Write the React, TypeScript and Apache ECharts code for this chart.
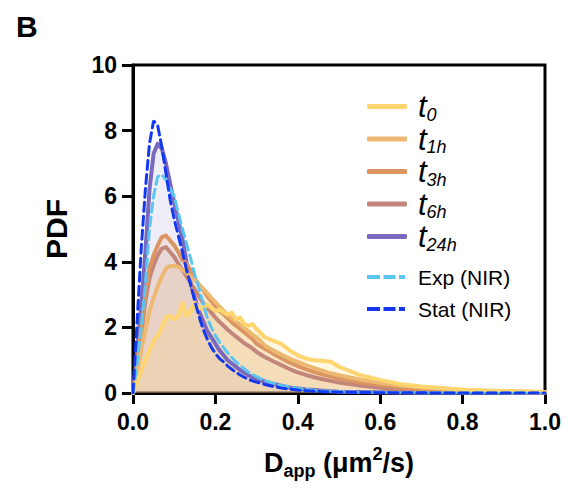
import React, { useEffect, useRef } from "react";
import * as echarts from "echarts";

const dApp = [0, 0.01, 0.02, 0.03, 0.04, 0.05, 0.06, 0.07, 0.08, 0.09, 0.10, 0.11, 0.12, 0.13, 0.14, 0.15, 0.16, 0.17, 0.18, 0.19, 0.20, 0.21, 0.22, 0.23, 0.24, 0.25, 0.26, 0.27, 0.28, 0.29, 0.30, 0.32, 0.34, 0.36, 0.38, 0.40, 0.42, 0.44, 0.46, 0.48, 0.50, 0.55, 0.60, 0.65, 0.70, 0.75, 0.80, 0.85, 0.90, 0.95, 1.00];

const t0 = [0, 0.3, 0.7, 1.0, 1.3, 1.6, 1.75, 2.0, 2.3, 2.35, 2.25, 2.35, 2.75, 2.35, 2.5, 2.75, 2.6, 2.55, 2.7, 2.6, 2.5, 2.55, 2.45, 2.4, 2.45, 2.25, 2.3, 2.1, 2.05, 2.1, 1.95, 1.7, 1.6, 1.5, 1.3, 1.15, 1.05, 1.0, 0.98, 0.95, 0.8, 0.55, 0.4, 0.27, 0.2, 0.15, 0.1, 0.08, 0.06, 0.05, 0.03];
const t1h = [0, 0.6, 1.3, 1.9, 2.5, 2.9, 3.25, 3.55, 3.8, 3.87, 3.87, 3.85, 3.75, 3.68, 3.55, 3.45, 3.32, 3.18, 3.05, 2.9, 2.77, 2.63, 2.5, 2.38, 2.28, 2.18, 2.08, 1.98, 1.88, 1.78, 1.7, 1.45, 1.3, 1.17, 1.05, 0.95, 0.85, 0.76, 0.68, 0.6, 0.54, 0.41, 0.31, 0.23, 0.17, 0.13, 0.09, 0.07, 0.05, 0.04, 0.03];
const t3h = [0, 0.9, 1.9, 3.0, 3.8, 4.2, 4.5, 4.75, 4.8, 4.65, 4.5, 4.3, 4.05, 3.95, 3.75, 3.5, 3.3, 3.15, 2.95, 2.8, 2.65, 2.5, 2.4, 2.28, 2.15, 2.05, 1.95, 1.85, 1.75, 1.65, 1.5, 1.35, 1.2, 1.06, 0.93, 0.82, 0.72, 0.64, 0.56, 0.5, 0.44, 0.33, 0.24, 0.17, 0.12, 0.09, 0.06, 0.05, 0.04, 0.03, 0.02];
const t6h = [0, 0.8, 1.7, 2.8, 3.5, 3.9, 4.2, 4.4, 4.45, 4.3, 4.15, 3.95, 3.75, 3.55, 3.35, 3.15, 2.95, 2.75, 2.6, 2.45, 2.3, 2.17, 2.05, 1.93, 1.82, 1.72, 1.62, 1.52, 1.44, 1.36, 1.25, 1.1, 0.97, 0.85, 0.73, 0.63, 0.55, 0.48, 0.42, 0.37, 0.32, 0.23, 0.16, 0.11, 0.08, 0.05, 0.04, 0.03, 0.02, 0.015, 0.01];
const t24h = [0, 1.2, 2.7, 4.3, 6.2, 7.3, 7.6, 7.45, 7.0, 6.4, 5.8, 5.25, 4.7, 4.0, 3.35, 2.9, 2.5, 2.2, 1.9, 1.7, 1.5, 1.3, 1.15, 1.0, 0.9, 0.8, 0.7, 0.62, 0.54, 0.48, 0.43, 0.35, 0.28, 0.22, 0.17, 0.14, 0.11, 0.09, 0.07, 0.05, 0.04, 0.03, 0.02, 0.015, 0.01, 0.01, 0.005, 0.005, 0.005, 0, 0];
const expNIR = [0, 0.9, 2.0, 3.3, 5.0, 6.0, 6.6, 6.65, 6.5, 6.25, 6.0, 5.5, 5.0, 4.55, 4.1, 3.6, 3.2, 2.75, 2.3, 2.0, 1.75, 1.55, 1.38, 1.22, 1.08, 0.95, 0.84, 0.74, 0.64, 0.56, 0.5, 0.38, 0.3, 0.23, 0.18, 0.14, 0.11, 0.08, 0.06, 0.05, 0.04, 0.025, 0.015, 0.01, 0.005, 0.005, 0, 0, 0, 0, 0];
const statNIR = [0, 2.2, 4.4, 6.2, 7.6, 8.3, 8.15, 7.5, 6.7, 5.9, 5.3, 4.8, 4.3, 3.75, 3.3, 2.8, 2.35, 1.95, 1.65, 1.4, 1.2, 1.05, 0.95, 0.82, 0.72, 0.63, 0.55, 0.48, 0.42, 0.37, 0.33, 0.26, 0.2, 0.15, 0.12, 0.09, 0.07, 0.05, 0.04, 0.03, 0.025, 0.015, 0.01, 0.005, 0.005, 0, 0, 0, 0, 0, 0];

const tNames = ["t0", "t1h", "t3h", "t6h", "t24h"];
const tSubs = ["0", "1h", "3h", "6h", "24h"];
const nirNames = ["Exp (NIR)", "Stat (NIR)"];
const xTicks = [0, 0.2, 0.4, 0.6, 0.8, 1.0];

const colors: Record<string, string> = {
  t0: "#FFD56F",
  t1h: "#EDB872",
  t3h: "#DB9560",
  t6h: "#C2877A",
  t24h: "#7A68BE",
  "Exp (NIR)": "#5CC6F2",
  "Stat (NIR)": "#1238F2",
};
const fillOpacity: Record<string, number> = { t0: 0.2, t1h: 0.15, t3h: 0.12, t6h: 0.1, t24h: 0.12 };

const FONT = "Liberation Sans, Arial, sans-serif";
const DASH_ICON = "path://M0,0H13V4H0Z M16.5,0H28.5V4H16.5Z M32,0H38V4H32Z";

export default function App() {
  const ref = useRef<HTMLDivElement>(null);
  useEffect(() => {
    if (!ref.current) return;
    const chart = echarts.init(ref.current, undefined, { renderer: "svg" });
    const pairs = (v: number[]) => dApp.map((d, i) => [d, v[i]]);
    const tData: Record<string, number[]> = { t0, t1h, t3h, t6h, t24h };
    const drawOrder = ["t24h", "t6h", "t3h", "t1h", "t0"];
    const tSeries = drawOrder.map((n) => ({
      name: n,
      type: "line",
      data: pairs(tData[n]),
      symbol: "none",
      lineStyle: { color: colors[n], width: 4, cap: "round", join: "round" },
      itemStyle: { color: colors[n] },
      areaStyle: { color: colors[n], opacity: fillOpacity[n] },
      z: 2,
    }));
    const nirSeries = [
      { name: "Exp (NIR)", v: expNIR },
      { name: "Stat (NIR)", v: statNIR },
    ].map((s) => ({
      name: s.name,
      type: "line",
      data: pairs(s.v),
      symbol: "none",
      lineStyle: { color: colors[s.name], width: 3, type: [9, 5], cap: "round" },
      itemStyle: { color: colors[s.name] },
      z: 3,
    }));
    const legendFmt = (name: string) => {
      const i = tNames.indexOf(name);
      return `{t|t}{s|${tSubs[i]}}`;
    };
    chart.setOption({
      animation: false,
      title: {
        text: "B",
        left: 11,
        top: 6,
        textStyle: { fontFamily: FONT, fontWeight: "bold", fontSize: 30, color: "#000" },
      },
      grid: {
        left: 133,
        top: 65,
        width: 412,
        height: 328,
        show: true,
        borderColor: "#000",
        borderWidth: 3,
        backgroundColor: "transparent",
      },
      legend: [
        {
          data: tNames.map((n) => ({ name: n, icon: "roundRect" })),
          orient: "vertical",
          left: 362,
          top: 86,
          itemWidth: 40,
          itemHeight: 5,
          itemGap: 0,
          formatter: legendFmt,
          textStyle: {
            padding: [0, 0, 0, 6],
            rich: {
              t: { fontFamily: FONT, fontStyle: "italic", fontSize: 31, lineHeight: 30, color: "#000" },
              s: { fontFamily: FONT, fontStyle: "italic", fontSize: 18, color: "#000", padding: [16, 0, 0, 0], verticalAlign: "top" },
            },
          },
        },
        {
          data: nirNames.map((n) => ({ name: n, icon: DASH_ICON })),
          orient: "vertical",
          left: 362,
          top: 261,
          itemWidth: 38,
          itemHeight: 4,
          itemGap: 10,
          textStyle: { fontFamily: FONT, fontSize: 21, color: "#000", padding: [0, 0, 0, 8], lineHeight: 22 },
        },
      ],
      xAxis: {
        type: "value",
        min: 0,
        max: 1,
        interval: 0.2,
        name: "{b|D}{sub|app}{b| (μm}{sup|2}{b|/s)}",
        nameLocation: "middle",
        nameGap: 52,
        nameTextStyle: {
          rich: {
            b: { fontFamily: FONT, fontWeight: "bold", fontSize: 27, lineHeight: 28, color: "#000" },
            sub: { fontFamily: FONT, fontWeight: "bold", fontSize: 18, color: "#000", padding: [17, 0, 0, 0], verticalAlign: "top" },
            sup: { fontFamily: FONT, fontWeight: "bold", fontSize: 18, color: "#000", padding: [0, 0, 12, 0], verticalAlign: "top" },
          },
        },
        axisLine: { lineStyle: { color: "#000", width: 3 } },
        axisTick: { length: 11, lineStyle: { color: "#000", width: 3 } },
        axisLabel: {
          fontFamily: FONT,
          fontWeight: "bold",
          fontSize: 23,
          color: "#000",
          margin: 17,
          formatter: (v: number) => (xTicks.some((t) => Math.abs(t - v) < 1e-9) ? v.toFixed(1) : ""),
        },
        splitLine: { show: false },
      },
      yAxis: {
        type: "value",
        min: 0,
        max: 10,
        interval: 2,
        name: "PDF",
        nameLocation: "middle",
        nameGap: 62,
        nameTextStyle: { fontFamily: FONT, fontWeight: "bold", fontSize: 30, color: "#000" },
        axisLine: { lineStyle: { color: "#000", width: 3 } },
        axisTick: { length: 11, lineStyle: { color: "#000", width: 3 } },
        axisLabel: { fontFamily: FONT, fontWeight: "bold", fontSize: 23, color: "#000", margin: 16 },
        splitLine: { show: false },
      },
      series: [...tSeries, ...nirSeries],
    });
    return () => chart.dispose();
  }, []);
  return <div ref={ref} style={{ width: 568, height: 488, position: "absolute", left: 0, top: 0 }} />;
}
